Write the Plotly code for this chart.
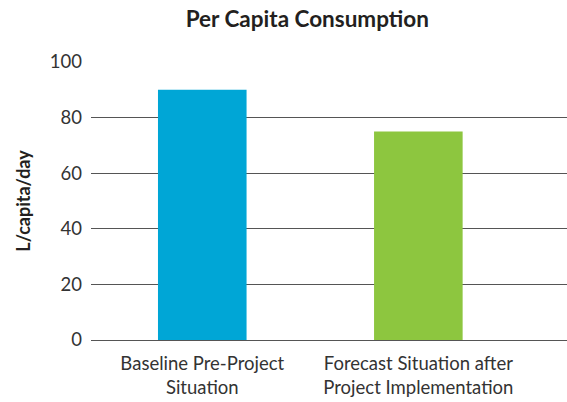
import plotly.graph_objects as go

categories = ["Baseline Pre-Project<br>Situation", "Forecast Situation after<br>Project Implementation"]
values = [90, 75]
colors = ["#00A6D6", "#8DC63F"]
y_ticks = [0, 20, 40, 60, 80, 100]

fig = go.Figure(
    go.Bar(
        x=categories,
        y=values,
        marker=dict(color=colors, line=dict(width=0)),
        width=0.41,
    )
)

fig.update_layout(
    width=567,
    height=402,
    margin=dict(l=91, r=0, t=62, b=62),
    paper_bgcolor="white",
    plot_bgcolor="white",
    showlegend=False,
    font=dict(family="Lato", color="#333333"),
    title=dict(
        text="<b>Per Capita Consumption</b>",
        x=0.542,
        xanchor="center",
        y=0.952,
        yanchor="middle",
        font=dict(family="Lato", size=22.5, color="#231f20"),
    ),
)

fig.update_xaxes(
    range=[-0.515, 1.688],
    showgrid=False,
    showline=False,
    ticks="",
    ticklabelstandoff=10,
    tickfont=dict(size=18.5, color="#333333"),
)

fig.update_yaxes(
    range=[0, 100],
    tickvals=y_ticks,
    showgrid=True,
    gridcolor="#555555",
    gridwidth=1.2,
    zeroline=True,
    zerolinecolor="#555555",
    zerolinewidth=1.2,
    ticks="",
    ticklabelstandoff=8,
    tickfont=dict(size=18.5, color="#333333"),
    title=dict(
        text="<b>L/capita/day</b>",
        font=dict(size=18, color="#231f20"),
        standoff=14,
    ),
)

fig.write_html("out.html")
